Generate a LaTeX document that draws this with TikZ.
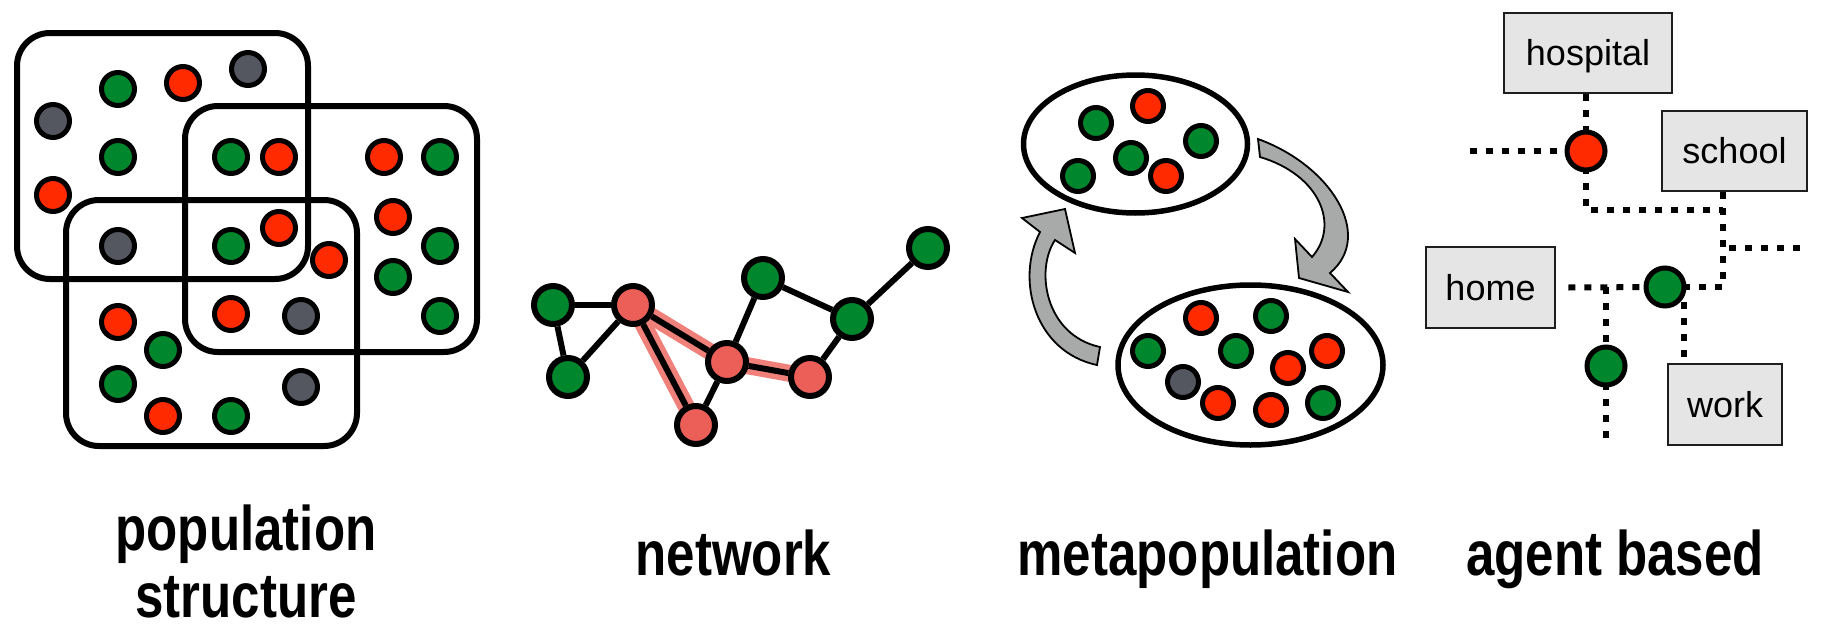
\documentclass[tikz,border=0pt]{standalone}
\usepackage{fontspec}
\setmainfont{Liberation Sans}
\newfontfamily\condfont[FakeStretch=0.81]{Liberation Sans}
\usetikzlibrary{backgrounds}
\definecolor{cgreen}{RGB}{0,134,44}
\definecolor{cred}{RGB}{255,42,0}
\definecolor{cgray}{RGB}{84,87,95}
\definecolor{nred}{RGB}{236,95,89}
\definecolor{hlred}{RGB}{240,128,122}
\definecolor{agray}{RGB}{167,170,169}
\definecolor{boxfill}{RGB}{229,229,229}
\definecolor{boxline}{RGB}{30,30,30}
\tikzset{
  pdot/.style={circle,draw=black,line width=5pt,minimum size=33pt,inner sep=0pt},
  pg/.style={pdot,fill=cgreen}, pr/.style={pdot,fill=cred}, pk/.style={pdot,fill=cgray},
  mdot/.style={circle,draw=black,line width=5pt,minimum size=31pt,inner sep=0pt},
  mg/.style={mdot,fill=cgreen}, mr/.style={mdot,fill=cred}, mk/.style={mdot,fill=cgray},
  ndot/.style={circle,draw=black,line width=6pt,minimum size=38pt,inner sep=0pt},
  ng/.style={ndot,fill=cgreen}, nr/.style={ndot,fill=nred},
  adot/.style={circle,draw=black,line width=5pt,minimum size=38pt,inner sep=0pt},
  popbox/.style={line width=6pt,rounded corners=33pt},
  nedge/.style={line width=6pt},
  nhl/.style={line width=17pt,draw=hlred},
  arrowshape/.style={fill=agray,draw=black,line width=1.8pt,line join=miter},
  abox/.style={draw=boxline,fill=boxfill,line width=2.5pt,inner sep=0pt,
    font=\fontsize{36}{36}\selectfont,text height=26pt,text depth=1pt},
  dotline/.style={line width=6pt,dash pattern=on 7pt off 9pt},
  lab/.style={font=\condfont\bfseries\fontsize{63}{67}\selectfont,anchor=base,inner sep=0pt}
}
\begin{document}
\begin{tikzpicture}[x=1pt,y=-1pt]
\useasboundingbox (0,0) rectangle (1829,629);

% ---------- population structure ----------
\draw[popbox] (17,33) rectangle (308,279);
\draw[popbox] (185,106) rectangle (477,352);
\draw[popbox] (66,200) rectangle (357,446);
\foreach \x/\y/\s [count=\i] in {
  118/89/pg, 183/83/pr, 248/69/pk, 53/121/pk, 118/157/pg, 53/195/pr,
  231/157/pg, 279/157/pr, 384/157/pr, 440/157/pg, 393/217/pr, 440/246/pg,
  393/277/pg, 440/316/pg, 118/246/pk, 231/246/pg, 279/228/pr, 329/260/pr,
  231/314/pr, 301/316/pk, 118/322/pr, 163/350/pg, 118/384/pg, 163/416/pr,
  231/416/pg, 301/387/pk}
  \node[\s] (p\i) at (\x,\y) {};

% ---------- network ----------
\node[ng] (A) at (553,305) {};
\node[ng] (B) at (568,377) {};
\node[nr] (C) at (633,305) {};
\node[nr] (D) at (727,362) {};
\node[nr] (E) at (696,425) {};
\node[ng] (F) at (763,278) {};
\node[ng] (G) at (852,319) {};
\node[nr] (H) at (810,377) {};
\node[ng] (I) at (928,248) {};
\begin{scope}[on background layer]
  \draw[nhl] (C.center) -- (D.center) -- (H.center);
  \draw[nhl] (C.center) -- (E.center);
  \draw[nedge] (A) -- (C);
  \draw[nedge] (A) -- (B);
  \draw[nedge] (B) -- (C);
  \draw[nedge] (C) -- (D);
  \draw[nedge] (C) -- (E);
  \draw[nedge] (D) -- (E);
  \draw[nedge] (D) -- (F);
  \draw[nedge] (D) -- (H);
  \draw[nedge] (F) -- (G);
  \draw[nedge] (G) -- (H);
  \draw[nedge] (G) -- (I);
\end{scope}

% ---------- metapopulation ----------
\draw[line width=5.5pt] (1135.5,144) ellipse [x radius=112, y radius=69];
\draw[line width=5.5pt] (1250.5,365) ellipse [x radius=132.5, y radius=80];
\foreach \x/\y/\s [count=\i] in {
  1096/123/mg, 1148/106/mr, 1201/141/mg, 1131/158/mg, 1166/176/mr, 1078/176/mg}
  \node[\s] (t\i) at (\x,\y) {};
\foreach \x/\y/\s [count=\i] in {
  1201/318/mr, 1271/316/mg, 1148/351/mg, 1236/351/mg, 1327/351/mr,
  1288/368/mr, 1183/382/mk, 1218/403/mr, 1271/410/mr, 1323/403/mg}
  \node[\s] (b\i) at (\x,\y) {};
% arrow down (right side)
\draw[arrowshape] (1258,139) .. controls (1330,165) and (1375,235) .. (1330,273)
  -- (1348,292) -- (1299,278) -- (1295,239) -- (1312,257)
  .. controls (1340,225) and (1320,175) .. (1260,157) -- cycle;
% arrow up (left side)
\draw[arrowshape] (1097,365) .. controls (1035,352) and (1015,280) .. (1040,232)
  -- (1022,218) -- (1065,209) -- (1075,253) -- (1055,240)
  .. controls (1035,270) and (1045,335) .. (1100,347) -- cycle;

% ---------- agent based ----------
\node[abox,minimum width=168pt,minimum height=80pt] (hosp) at (1588,53) {hospital};
\node[abox,minimum width=145pt,minimum height=80pt] (school) at (1734.5,151) {school};
\node[abox,minimum width=129pt,minimum height=81pt] (home) at (1490.5,287.5) {home};
\node[abox,minimum width=114pt,minimum height=81pt] (work) at (1725,404.5) {work};
\node[adot,fill=cred] (ag1) at (1586,151) {};
\node[adot,fill=cgreen] (ag2) at (1665,287) {};
\node[adot,fill=cgreen] (ag3) at (1606,366) {};
\coordinate (e1) at (1470,151);
\coordinate (j1) at (1586,210);
\coordinate (j2) at (1723,287);
\coordinate (j3) at (1606,287);
\coordinate (e3) at (1606,438);
\coordinate (k3) at (1684,302);
\coordinate (b1) at (1729,248);
\coordinate (b2) at (1802,248);
\begin{scope}[on background layer]
  \draw[dotline] (hosp.south -| ag1) -- (ag1.center);
  \draw[dotline] (e1) -- (ag1.center);
  \draw[dotline] (ag1.center) -- (j1) -- (j1 -| j2);
  \draw[dotline] (school.south -| j2) -- (j2) -- (ag2.center);
  \draw[dotline] (b1) -- (b2);
  \draw[dotline] ([xshift=12pt]home.east) -- (ag2.center);
  \draw[dotline] (j3) -- (ag3.center) -- (e3);
  \draw[dotline] (k3) -- (k3 |- work.north);
\end{scope}

% ---------- labels ----------
\node[lab] (l1a) at (246,550) {population};
\node[lab] (l1b) at (246,617) {structure};
\node[lab] (l2) at (733.5,575) {network};
\node[lab] (l3) at (1207.5,575) {metapopulation};
\node[lab] (l4) at (1615,575) {agent based};
\end{tikzpicture}
\end{document}
